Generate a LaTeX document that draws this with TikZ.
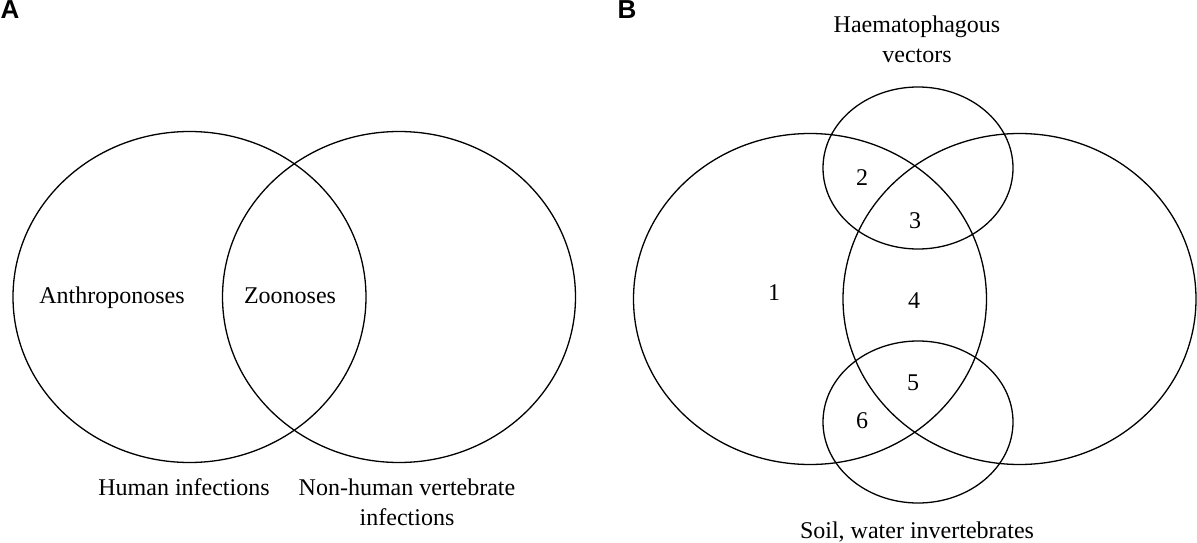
\documentclass[tikz,border=0pt]{standalone}
\usepackage{fontspec}
\setmainfont{Liberation Serif}
\newfontfamily\panelfont{Liberation Sans}

\begin{document}
\begin{tikzpicture}[x=1pt, y=-1pt, line width=1.3pt, font=\fontsize{24}{30}\selectfont]
      \useasboundingbox (0,0) rectangle (1197,543);
      \tikzstyle{bigset} = [x radius=176.5pt, y radius=165.5pt]
      \tikzstyle{smallset} = [x radius=95pt, y radius=81pt]
      \tikzstyle{lbl} = [inner sep=0pt, anchor=base, align=center]
      \tikzstyle{region} = [inner sep=0pt]
      \tikzstyle{panel} = [inner sep=0pt, anchor=base west, font=\panelfont\bfseries\fontsize{26}{26}\selectfont]
      % panel A
      \node (A) [panel] at (0,19) {A};
      \coordinate (human) at (189.5,297);
      \coordinate (animal) at (399,297);
      \draw (human) ellipse [bigset];
      \draw (animal) ellipse [bigset];
      \node (anthro) [lbl] at (112,303) {Anthroponoses};
      \node (zoo) [lbl] at (290,303) {Zoonoses};
      \node (humaninf) [lbl] at (184,495) {Human infections};
      \node (animalinf) [lbl] at (407,525) {Non-human vertebrate\\infections};
      % panel B
      \node (B) [panel] at (617,19) {B};
      \coordinate (humanB) at (810,299);
      \coordinate (animalB) at (1019.5,299);
      \coordinate (vector) at (918,168);
      \coordinate (soil) at (918,422);
      \draw (humanB) ellipse [bigset];
      \draw (animalB) ellipse [bigset];
      \draw (vector) ellipse [smallset];
      \draw (soil) ellipse [smallset];
      \node (vectorlbl) [lbl] at (917,63) {Haematophagous\\vectors};
      \node (soillbl) [lbl] at (917,538) {Soil, water invertebrates};
      \node (r1) [region] at (774,293) {1};
      \node (r2) [region] at (862,178) {2};
      \node (r3) [region] at (915,221) {3};
      \node (r4) [region] at (914,301) {4};
      \node (r5) [region] at (913,383) {5};
      \node (r6) [region] at (862,421) {6};
\end{tikzpicture}
\end{document}
